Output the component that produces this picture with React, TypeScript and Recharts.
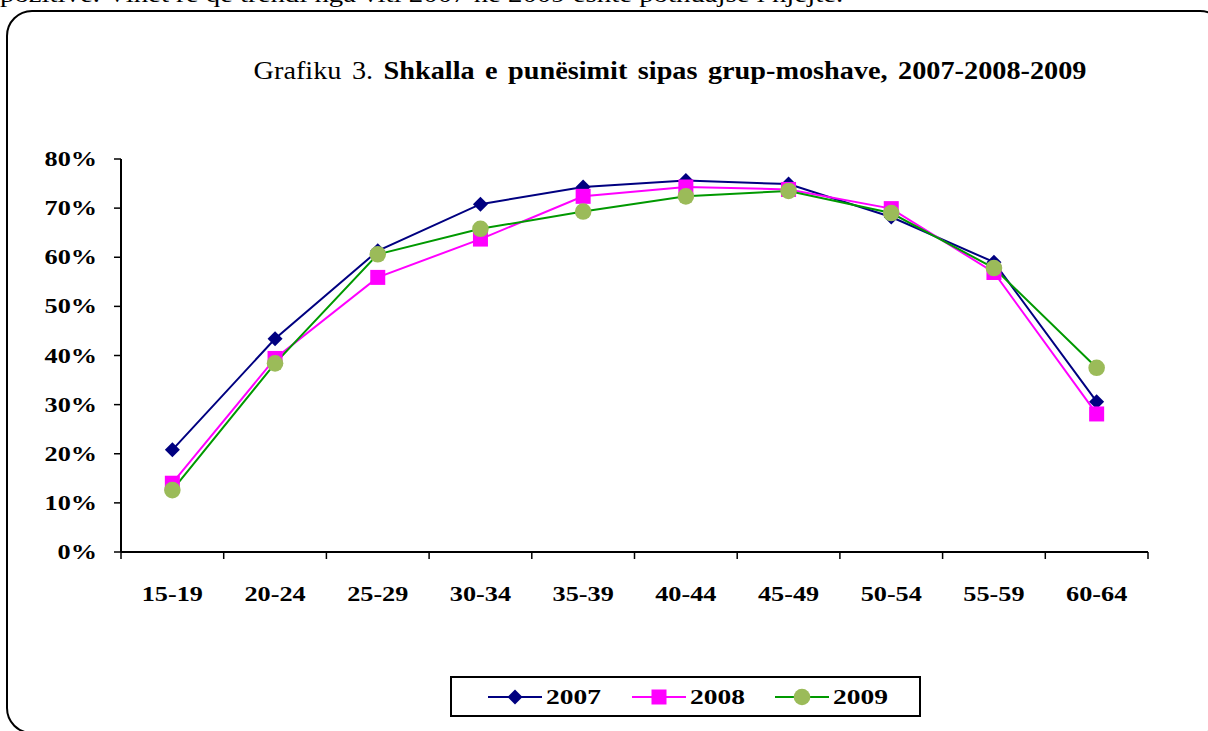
import React from "react";
import { LineChart, Line, XAxis, YAxis } from "recharts";

// age groups and employment rate (%) per year
const ageGroups = ["15-19", "20-24", "25-29", "30-34", "35-39", "40-44", "45-49", "50-54", "55-59", "60-64"];
const rate2007 = [20.8, 43.4, 61.3, 70.8, 74.3, 75.6, 74.9, 68.2, 59.0, 30.6];
const rate2008 = [14.0, 39.4, 55.9, 63.7, 72.4, 74.3, 73.8, 69.9, 56.9, 28.1];
const rate2009 = [12.6, 38.4, 60.6, 65.8, 69.3, 72.4, 73.5, 69.0, 57.8, 37.5];
const yTicks = [0, 10, 20, 30, 40, 50, 60, 70, 80];

const series = [
  { key: "y2007", name: "2007", line: "#000080", marker: "#000080", shape: "diamond" },
  { key: "y2008", name: "2008", line: "#FF00FF", marker: "#FF00FF", shape: "square" },
  { key: "y2009", name: "2009", line: "#009900", marker: "#9BBB59", shape: "circle" },
];

const data = ageGroups.map((age, i) => ({
  pos: i + 0.5,
  age,
  y2007: rate2007[i],
  y2008: rate2008[i],
  y2009: rate2009[i],
}));

const FONT = "'Liberation Serif', 'Times New Roman', serif";
const STRETCH = 1.25;

function Marker({ shape, color, cx, cy }: { shape: string; color: string; cx: number; cy: number }) {
  if (shape === "diamond") {
    return <polygon points={`${cx},${cy - 7.5} ${cx + 7.5},${cy} ${cx},${cy + 7.5} ${cx - 7.5},${cy}`} fill={color} />;
  }
  if (shape === "square") {
    return <rect x={cx - 7.5} y={cy - 7.5} width={15} height={15} fill={color} />;
  }
  return <circle cx={cx} cy={cy} r={8.3} fill={color} />;
}

function XTick(props: any) {
  const { x, y, payload, width } = props;
  const n = ageGroups.length;
  if (payload.value >= n) return null;
  const half = width / n / 2;
  return (
    <g transform={`translate(${x + half},${y + 40})`}>
      <text transform={`scale(${STRETCH},1)`} textAnchor="middle" fontFamily={FONT} fontWeight="bold" fontSize={21} fill="#000">
        {ageGroups[payload.value]}
      </text>
    </g>
  );
}

function YTick(props: any) {
  const { x, y, payload } = props;
  return (
    <g transform={`translate(${x},${y + 7})`}>
      <text transform={`scale(${STRETCH},1)`} textAnchor="end" fontFamily={FONT} fontWeight="bold" fontSize={21} fill="#000">
        {payload.value + "%"}
      </text>
    </g>
  );
}

export default function App() {
  const boundaries = ageGroups.map((_, i) => i).concat([ageGroups.length]);
  return (
    <div style={{ position: "absolute", left: 0, top: 0, width: 1208, height: 731, overflow: "hidden", background: "#fff" }}>
      <div
        style={{
          position: "absolute",
          left: 0,
          top: -19,
          whiteSpace: "nowrap",
          fontFamily: FONT,
          fontSize: 24,
          transform: "scale(1.2,1)",
          transformOrigin: "left top",
        }}
      >
        pozitive. Vihet re që trendi nga viti 2007 në 2009 është pothuajse i njëjtë.
      </div>
      <div
        style={{
          position: "absolute",
          left: 6,
          top: 10,
          width: 1220,
          height: 724,
          border: "2px solid #000",
          borderRadius: 26,
          boxSizing: "border-box",
        }}
      />
      <div
        style={{
          position: "absolute",
          left: 670,
          top: 57,
          whiteSpace: "nowrap",
          fontFamily: FONT,
          fontSize: 25,
          wordSpacing: 3,
          transform: "translateX(-50%) scale(1.13,1)",
          transformOrigin: "center top",
        }}
      >
        Grafiku 3. <b>Shkalla e punësimit sipas grup-moshave, 2007-2008-2009</b>
      </div>

      <LineChart
        width={1208}
        height={731}
        data={data}
        margin={{ top: 159, right: 60, bottom: 139, left: 61 }}
        style={{ position: "absolute", left: 0, top: 0 }}
      >
        <XAxis
          dataKey="pos"
          type="number"
          domain={[0, ageGroups.length]}
          ticks={boundaries}
          interval={0}
          height={40}
          tick={<XTick />}
          tickSize={7}
          tickLine={{ stroke: "#000", strokeWidth: 1.5 }}
          axisLine={{ stroke: "#000", strokeWidth: 2 }}
        />
        <YAxis
          type="number"
          domain={[0, 80]}
          ticks={yTicks}
          interval={0}
          width={60}
          tick={<YTick />}
          tickSize={7}
          tickMargin={17}
          tickLine={{ stroke: "#000", strokeWidth: 1.5 }}
          axisLine={{ stroke: "#000", strokeWidth: 2 }}
        />
        {series.map((s) => (
          <Line
            key={s.key}
            dataKey={s.key}
            name={s.name}
            type="linear"
            stroke={s.line}
            strokeWidth={2}
            isAnimationActive={false}
            dot={(p: any) => <Marker key={`${s.key}-${p.index}`} shape={s.shape} color={s.marker} cx={p.cx} cy={p.cy} />}
            activeDot={false}
          />
        ))}
      </LineChart>

      <div
        style={{
          position: "absolute",
          left: 450,
          top: 676,
          width: 471,
          height: 41,
          border: "2px solid #000",
          boxSizing: "border-box",
          display: "flex",
          alignItems: "center",
          paddingLeft: 36,
        }}
      >
        {series.map((s) => (
          <div key={s.key} style={{ display: "flex", alignItems: "center", width: 147 }}>
            <svg width={54} height={20}>
              <line x1={0} y1={10} x2={54} y2={10} stroke={s.line} strokeWidth={2} />
              <Marker shape={s.shape} color={s.marker} cx={27} cy={10} />
            </svg>
            <span
              style={{
                fontFamily: FONT,
                fontWeight: "bold",
                fontSize: 22,
                marginLeft: 4,
                display: "inline-block",
                transform: `scale(${STRETCH},1)`,
                transformOrigin: "left center",
              }}
            >
              {s.name}
            </span>
          </div>
        ))}
      </div>
    </div>
  );
}
